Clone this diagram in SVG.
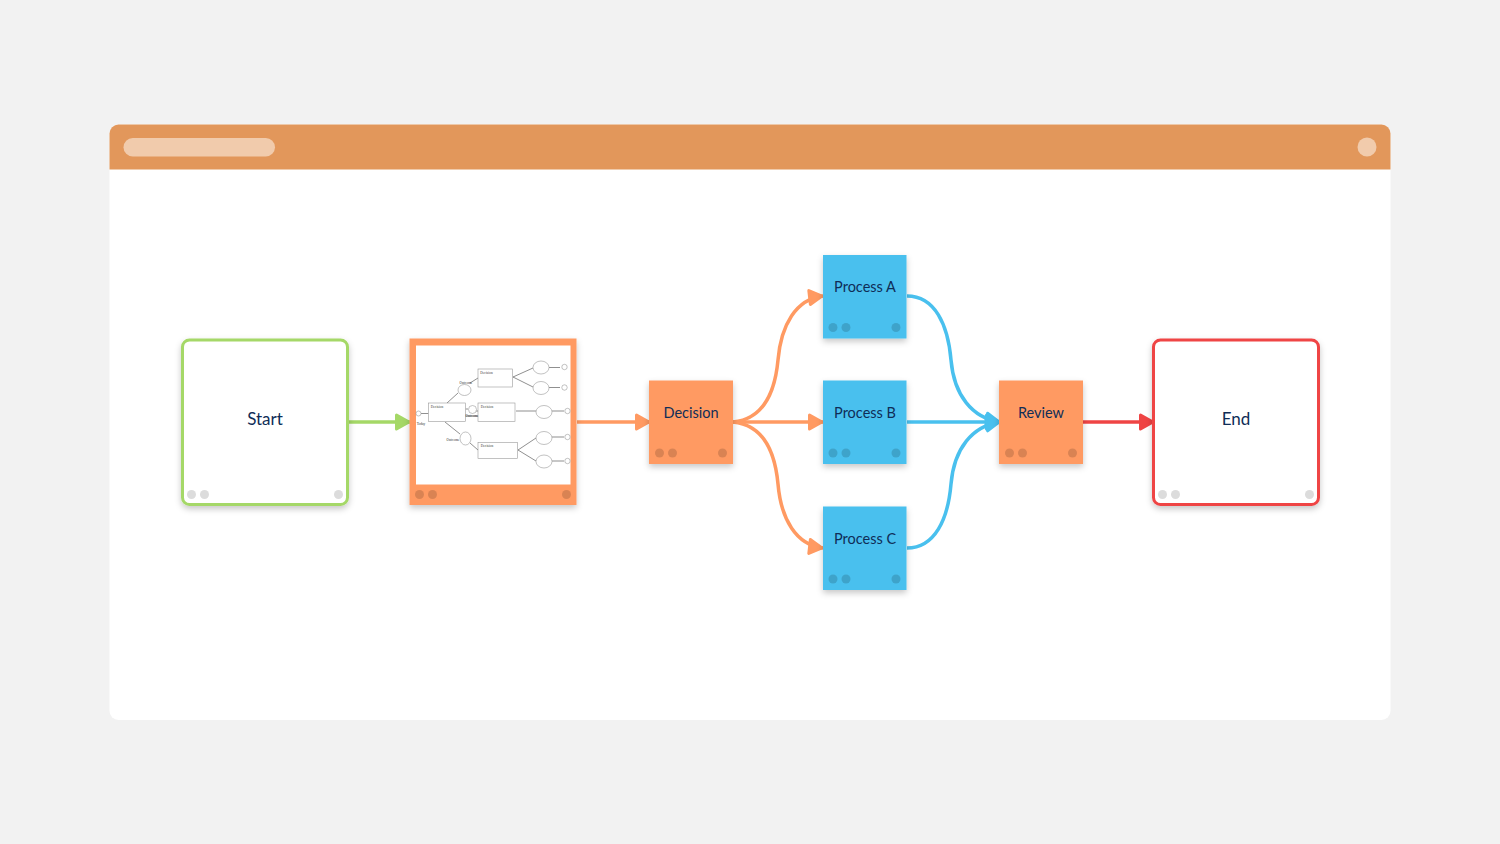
<svg xmlns="http://www.w3.org/2000/svg" width="1500" height="844" viewBox="0 0 1500 844">
<defs>
<filter id="sh" x="-20%" y="-20%" width="140%" height="140%"><feDropShadow dx="0" dy="3" stdDeviation="3" flood-color="#000" flood-opacity="0.22"/></filter>
<marker id="mG" markerUnits="userSpaceOnUse" markerWidth="18" markerHeight="20" refX="16" refY="10" orient="auto"><path d="M2.500 3L15 10L2.500 17Z" fill="#a5d867" stroke="#a5d867" stroke-width="3" stroke-linejoin="round"/></marker>
<marker id="mO" markerUnits="userSpaceOnUse" markerWidth="18" markerHeight="20" refX="16" refY="10" orient="auto"><path d="M2.500 3L15 10L2.500 17Z" fill="#ff9a62" stroke="#ff9a62" stroke-width="3" stroke-linejoin="round"/></marker>
<marker id="mB" markerUnits="userSpaceOnUse" markerWidth="18" markerHeight="20" refX="16" refY="10" orient="auto"><path d="M2.500 3L15 10L2.500 17Z" fill="#49c0ee" stroke="#49c0ee" stroke-width="3" stroke-linejoin="round"/></marker>
<marker id="mR" markerUnits="userSpaceOnUse" markerWidth="18" markerHeight="20" refX="16" refY="10" orient="auto"><path d="M2.500 3L15 10L2.500 17Z" fill="#ef4444" stroke="#ef4444" stroke-width="3" stroke-linejoin="round"/></marker>
</defs>
<style>
text{font-family:"Lato","Liberation Sans",sans-serif;fill:#0f2d57;text-anchor:middle}
.n{font-size:14.500px}
.b{font-size:17px}
.c{fill:none;stroke-width:3.500}
.d{fill:#000;opacity:.15}
.l{fill:#dcdcdc}
.th{fill:#fff;stroke:#999;stroke-width:.6}
.tl{fill:none;stroke:#444;stroke-width:.6}
.tt{font-family:"Liberation Serif",serif;font-size:3.500px;fill:#333}
</style>
<rect width="1500" height="844" fill="#f2f2f2"/>
<g id="window">
<rect x="109.500" y="124.500" width="1281" height="595.500" rx="9" fill="#fff"/>
<path d="M109.500 169.500V133.500a9 9 0 0 1 9-9H1381.500a9 9 0 0 1 9 9V169.500Z" fill="#e2975b"/>
<rect x="123.500" y="138" width="151.500" height="18.500" rx="9.250" fill="#f1cbac"/>
<circle cx="1367" cy="147" r="9.500" fill="#f1cbac"/>
</g>
<g id="connectors">
<path class="c" stroke="#a5d867" marker-end="url(#mG)" d="M348 422H410"/>
<path class="c" stroke="#ff9a62" marker-end="url(#mO)" d="M577 422H650"/>
<path class="c" stroke="#ff9a62" marker-end="url(#mO)" d="M733 422C764 419 775 392 778 360C781 325 796 299 823 296"/>
<path class="c" stroke="#ff9a62" marker-end="url(#mO)" d="M733 422H823"/>
<path class="c" stroke="#ff9a62" marker-end="url(#mO)" d="M733 422C764 425 775 452 778 484C781 519 796 545 823 548"/>
<path class="c" stroke="#49c0ee" marker-end="url(#mB)" d="M907 296C935 296 948 325 951 360C954 395 972 418 1000 422"/>
<path class="c" stroke="#49c0ee" marker-end="url(#mB)" d="M907 422H1000"/>
<path class="c" stroke="#49c0ee" marker-end="url(#mB)" d="M907 548C935 548 948 519 951 484C954 449 972 426 1000 422"/>
<path class="c" stroke="#ef4444" marker-end="url(#mR)" d="M1083 422H1154"/>
</g>
<g id="start">
<rect x="182.500" y="340" width="165" height="164.500" rx="7" fill="#fff" stroke="#a5d867" stroke-width="3" filter="url(#sh)"/>
<text class="b" x="265" y="424.500">Start</text>
<circle class="l" cx="191.500" cy="494.500" r="4.500"/><circle class="l" cx="204.500" cy="494.500" r="4.500"/><circle class="l" cx="338.500" cy="494.500" r="4.500"/>
</g>
<g id="thumbnail">
<rect x="409.500" y="338.500" width="167" height="166.500" fill="#ff9a62" filter="url(#sh)"/>
<rect x="416" y="345.500" width="154.500" height="139" fill="#fff"/>
<circle class="d" cx="419.500" cy="494.500" r="4.500"/><circle class="d" cx="432.500" cy="494.500" r="4.500"/><circle class="d" cx="566.500" cy="494.500" r="4.500"/>
<path class="tl" d="M421 413.500H428.500M447 403L458 393M470 383L478 378M445 422L460 434M470 443L478 450M513 377L533 368M513 377L533 387M549 367.500H560M549 387.500H560M516 411H536M552 411H564M518 450L536 438M518 450L536 461M552 437H564M552 461H564M465.500 409H468M476 411H478M465.500 416H478"/>
<rect class="th" x="428.500" y="403" width="37" height="18.500"/>
<rect class="th" x="478" y="369" width="34.500" height="18"/>
<rect class="th" x="478" y="403" width="37" height="18.500"/>
<rect class="th" x="478" y="442.500" width="39.500" height="16"/>
<ellipse class="th" cx="464.500" cy="390" rx="6.500" ry="5.500"/>
<circle class="th" cx="472.500" cy="409.500" r="4"/>
<ellipse class="th" cx="465.500" cy="438.500" rx="5.500" ry="6.500"/>
<ellipse class="th" cx="541" cy="367.500" rx="8" ry="6.500"/>
<ellipse class="th" cx="541" cy="388" rx="8" ry="6.500"/>
<ellipse class="th" cx="544" cy="412" rx="8" ry="6.500"/>
<ellipse class="th" cx="544" cy="438" rx="8" ry="6.500"/>
<ellipse class="th" cx="544" cy="461.500" rx="8" ry="6.500"/>
<circle class="th" cx="418.500" cy="413.500" r="2.500"/>
<circle class="th" cx="564.500" cy="367" r="2.700"/><circle class="th" cx="564.500" cy="387.500" r="2.700"/><circle class="th" cx="567.500" cy="411" r="2.700"/><circle class="th" cx="567.500" cy="437" r="2.700"/><circle class="th" cx="567.500" cy="461" r="2.700"/>
<text class="tt" x="437" y="407.500">Decision</text>
<text class="tt" x="486.500" y="373.500">Decision</text>
<text class="tt" x="487" y="407.500">Decision</text>
<text class="tt" x="487" y="446.500">Decision</text>
<text class="tt" x="466" y="384">Outcome</text>
<text class="tt" x="472" y="417">Outcome</text>
<text class="tt" x="453" y="441">Outcome</text>
<text class="tt" x="421" y="425">Today</text>
</g>
<g id="decision">
<rect x="649" y="380.500" width="84" height="83.500" fill="#ff9a62" filter="url(#sh)"/>
<text class="n" x="691" y="417.500">Decision</text>
<circle class="d" cx="659.500" cy="453" r="4.500"/><circle class="d" cx="672.500" cy="453" r="4.500"/><circle class="d" cx="722.500" cy="453" r="4.500"/>
</g>
<g id="process-a">
<rect x="823" y="255" width="83.500" height="83.500" fill="#49c0ee" filter="url(#sh)"/>
<text class="n" x="865" y="291.500">Process A</text>
<circle class="d" cx="833" cy="327.500" r="4.500"/><circle class="d" cx="846" cy="327.500" r="4.500"/><circle class="d" cx="896" cy="327.500" r="4.500"/>
</g>
<g id="process-b">
<rect x="823" y="380.500" width="83.500" height="83.500" fill="#49c0ee" filter="url(#sh)"/>
<text class="n" x="865" y="417.500">Process B</text>
<circle class="d" cx="833" cy="453" r="4.500"/><circle class="d" cx="846" cy="453" r="4.500"/><circle class="d" cx="896" cy="453" r="4.500"/>
</g>
<g id="process-c">
<rect x="823" y="506.500" width="83.500" height="83.500" fill="#49c0ee" filter="url(#sh)"/>
<text class="n" x="865" y="543.500">Process C</text>
<circle class="d" cx="833" cy="579" r="4.500"/><circle class="d" cx="846" cy="579" r="4.500"/><circle class="d" cx="896" cy="579" r="4.500"/>
</g>
<g id="review">
<rect x="999" y="380.500" width="84" height="83.500" fill="#ff9a62" filter="url(#sh)"/>
<text class="n" x="1041" y="417.500">Review</text>
<circle class="d" cx="1009.500" cy="453" r="4.500"/><circle class="d" cx="1022.500" cy="453" r="4.500"/><circle class="d" cx="1072.500" cy="453" r="4.500"/>
</g>
<g id="end">
<rect x="1153.500" y="340" width="165" height="164.500" rx="7" fill="#fff" stroke="#ef4444" stroke-width="3" filter="url(#sh)"/>
<text class="b" x="1236" y="424.500">End</text>
<circle class="l" cx="1162.500" cy="494.500" r="4.500"/><circle class="l" cx="1175.500" cy="494.500" r="4.500"/><circle class="l" cx="1309.500" cy="494.500" r="4.500"/>
</g>
</svg>
